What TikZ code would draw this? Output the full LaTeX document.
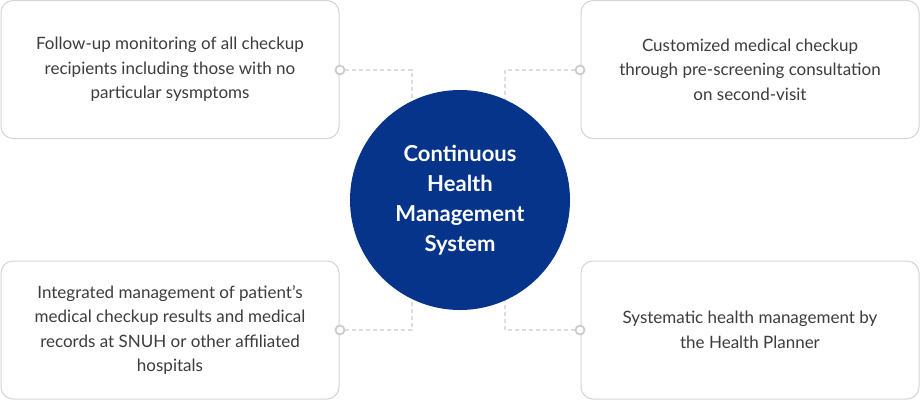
\documentclass[tikz,border=0pt]{standalone}
\usepackage{fontspec}
\setmainfont{Lato}
\definecolor{boxline}{HTML}{D4D4D4}
\definecolor{dashline}{HTML}{DDDDDD}
\definecolor{ringc}{HTML}{CCCCCC}
\definecolor{txt}{HTML}{3C3C3C}
\definecolor{navy}{HTML}{05348A}
\begin{document}
\begin{tikzpicture}[x=1pt,y=-1pt,
  card/.style={draw=boxline,line width=1pt,rounded corners=12pt,fill=white,
    minimum width=338pt,minimum height=138pt,inner sep=0pt,
    text=txt,align=center,font=\fontsize{17}{24.5}\selectfont},
  hub/.style={circle,fill=navy,minimum size=220pt,inner sep=0pt,text=white,
    align=center,font=\fontsize{22}{30}\selectfont\bfseries},
  ring/.style={circle,draw=ringc,line width=1.8pt,fill=white,minimum size=9pt,inner sep=0pt},
  link/.style={draw=dashline,line width=1.2pt,dash pattern=on 4pt off 3pt}]
\useasboundingbox (0,0) rectangle (920,400);
\node[card] (tl) at (170,69.5) {Follow-up monitoring of all checkup\\recipients including those with no\\particular sysmptoms};
\node[card] (tr) at (750,69.5) {Customized medical checkup\\through pre-screening consultation\\on second-visit};
\node[card] (bl) at (170,330) {Integrated management of patient’s\\medical checkup results and medical\\records at SNUH or other affiliated\\hospitals};
\node[card] (br) at (750,330) {Systematic health management by\\the Health Planner};
\coordinate (ctl) at (412,70);
\coordinate (ctr) at (505,70);
\coordinate (cbl) at (412,330);
\coordinate (cbr) at (505,330);
\node[ring] (rtl) at (340,70) {};
\node[ring] (rtr) at (580,70) {};
\node[ring] (rbl) at (340,330) {};
\node[ring] (rbr) at (580,330) {};
\draw[link] (rtl.east) -- (ctl) -- (412,130);
\draw[link] (rtr.west) -- (ctr) -- (505,130);
\draw[link] (rbl.east) -- (cbl) -- (412,270);
\draw[link] (rbr.west) -- (cbr) -- (505,270);
\node[hub] (hub) at (460,200) {Continuous\\Health\\Management\\System};
\end{tikzpicture}
\end{document}
